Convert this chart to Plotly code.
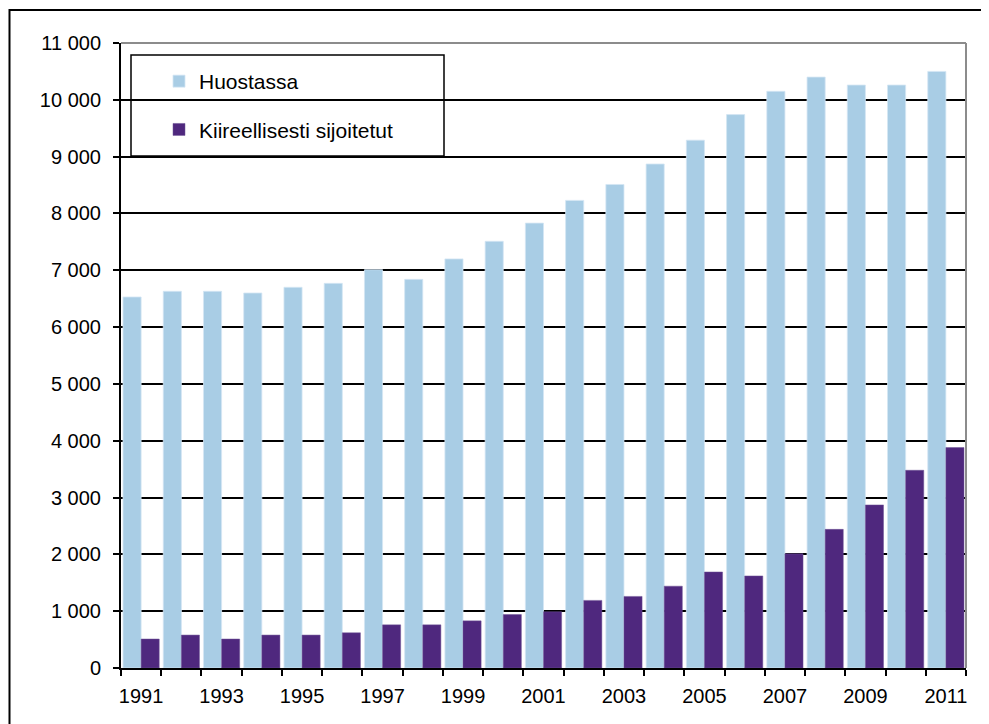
import plotly.graph_objects as go

years = [str(y) for y in range(1991, 2012)]
tick_labels = [y if int(y) % 2 == 1 else "" for y in years]
huostassa = [6530, 6630, 6630, 6600, 6700, 6770, 7010, 6840, 7200, 7510, 7830,
             8230, 8510, 8870, 9290, 9740, 10150, 10400, 10260, 10260, 10500]
kiireelliset = [510, 580, 510, 580, 580, 620, 760, 760, 830, 940, 990,
                1190, 1260, 1440, 1690, 1620, 2010, 2440, 2870, 3480, 3880]
series_names = ["Huostassa", "Kiireellisesti sijoitetut"]
y_ticks = list(range(0, 11001, 1000))

OFF = 8  # page body offset
W, H = 989 - OFF, 724 - OFF
# desired plot area on screen: x 121..966, y 43..668
L, T = 121 - OFF, 43 - OFF
pw, ph = 845, 625
R = W - L - pw
B = H - T - ph

def px_x(p):
    return (p - OFF - L) / pw

def px_y(p):
    return (T + ph - (p - OFF)) / ph

fig = go.Figure()
fig.add_trace(go.Bar(x=years, y=huostassa, name=series_names[0], legendgroup="a",
                     marker=dict(color="#A9CDE5", line=dict(color="#D4E6F4", width=0.8))))
fig.add_trace(go.Bar(x=years, y=kiireelliset, name=series_names[1], legendgroup="b",
                     marker=dict(color="#4F287E", line=dict(color="#6E5596", width=0.5))))

font = "Liberation Sans, Arial, sans-serif"
fig.update_layout(
    width=W, height=H,
    margin=dict(l=L, r=R, t=T, b=B, autoexpand=False),
    paper_bgcolor="white", plot_bgcolor="white",
    barmode="group", bargap=0.1, bargroupgap=0,
    separators=", ",
    font=dict(family=font, size=20, color="black"),
    showlegend=True,
    legend=dict(x=px_x(159), y=px_y(61), xanchor="left", yanchor="top",
                bgcolor="rgba(0,0,0,0)", borderwidth=0,
                font=dict(family=font, size=21, color="black"),
                traceorder="grouped", tracegroupgap=18),
    xaxis=dict(type="category", tickmode="array", tickvals=years, ticktext=tick_labels,
               tickson="boundaries", ticks="outside", ticklen=6, tickwidth=2,
               tickcolor="black", showline=True, linecolor="black", linewidth=2,
               showgrid=False, tickfont=dict(size=20), tickangle=0,
               ticklabelstandoff=9, automargin=False),
    yaxis=dict(range=[0, 11000], tickvals=y_ticks, tickformat=",d", ticks="outside",
               ticklen=6, tickwidth=2, tickcolor="black", showline=True,
               linecolor="black", linewidth=2, showgrid=True, gridcolor="black",
               gridwidth=2, zeroline=False, tickfont=dict(size=20),
               ticklabelstandoff=8, automargin=False),
    shapes=[
        # plot area top and right border (gray)
        dict(type="line", xref="paper", yref="paper", x0=0, x1=1, y0=1, y1=1,
             line=dict(color="#8C8C8C", width=2), layer="above"),
        dict(type="line", xref="paper", yref="paper", x0=1, x1=1, y0=0, y1=1,
             line=dict(color="#8C8C8C", width=2), layer="above"),
        # legend frame
        dict(type="rect", xref="paper", yref="paper", x0=px_x(131), x1=px_x(444),
             y0=px_y(156), y1=px_y(55), line=dict(color="black", width=1.5),
             fillcolor="white", layer="below"),
        # outer chart frame
        dict(type="rect", xref="paper", yref="paper", x0=px_x(9.5), x1=px_x(1010),
             y0=px_y(750), y1=px_y(10), line=dict(color="black", width=2),
             fillcolor="rgba(0,0,0,0)", layer="above"),
    ],
)

fig.write_html("out.html")
